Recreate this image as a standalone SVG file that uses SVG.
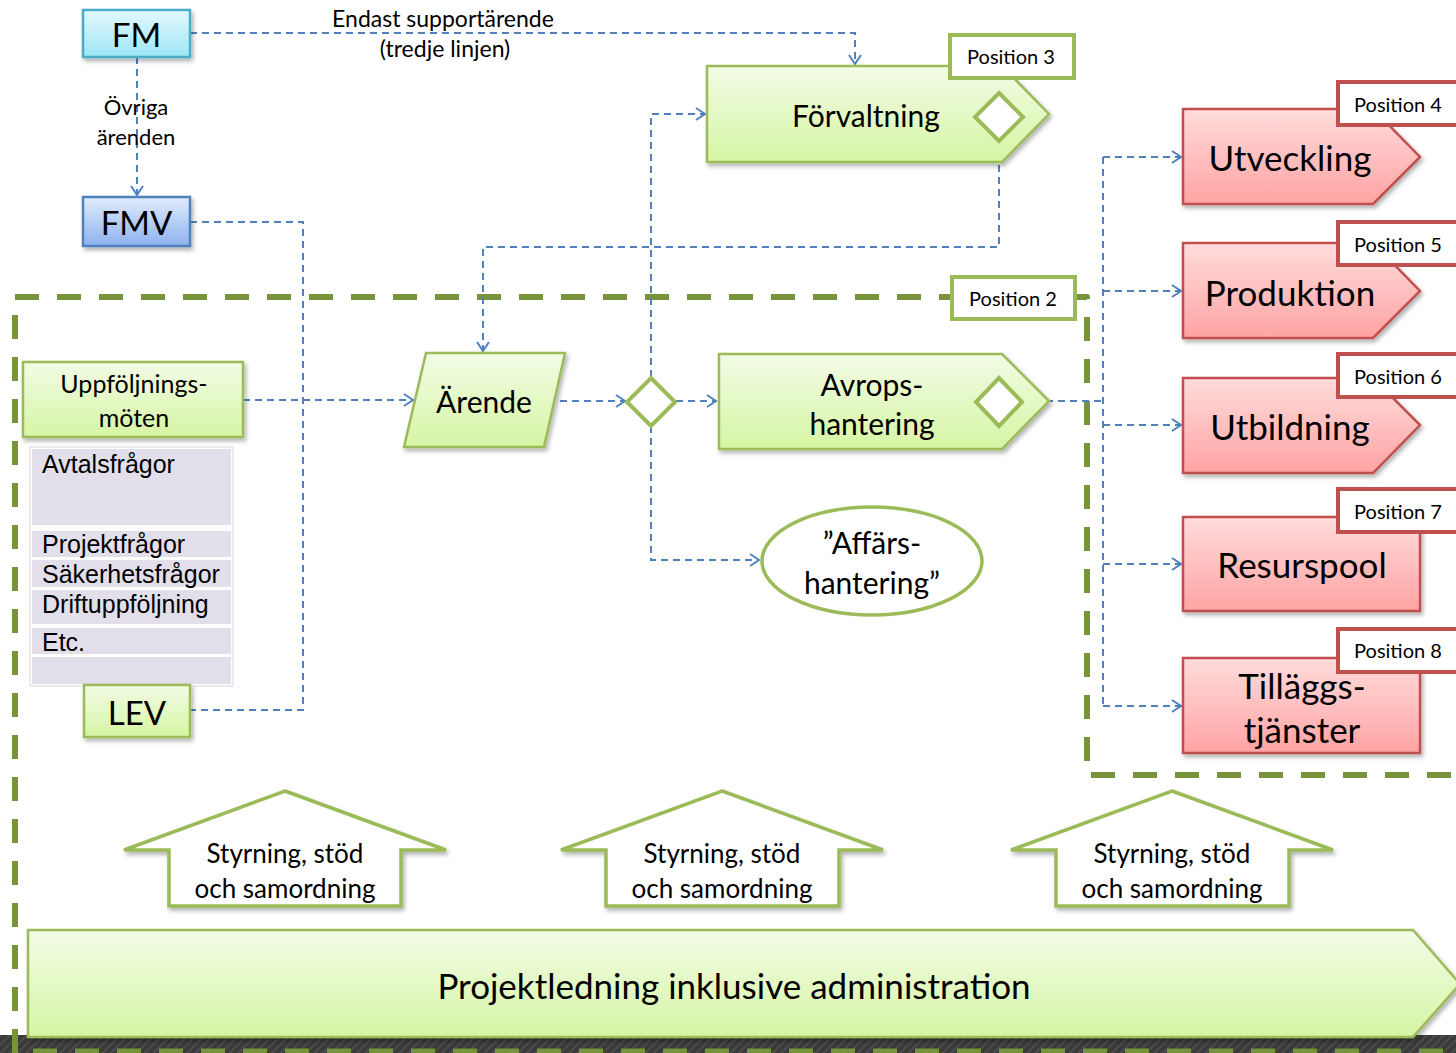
<svg xmlns="http://www.w3.org/2000/svg" width="1456" height="1053" viewBox="0 0 1456 1053">
<defs>
<linearGradient id="gGreen" x1="0" y1="0" x2="0" y2="1"><stop offset="0" stop-color="#f2fce6"/><stop offset="1" stop-color="#d6f5a3"/></linearGradient>
<linearGradient id="gRed" x1="0" y1="0" x2="0" y2="1"><stop offset="0" stop-color="#ffdcdc"/><stop offset="1" stop-color="#ffa3a3"/></linearGradient>
<linearGradient id="gCyan" x1="0" y1="0" x2="0" y2="1"><stop offset="0" stop-color="#e3f9fd"/><stop offset="1" stop-color="#9ee6f6"/></linearGradient>
<linearGradient id="gBlue" x1="0" y1="0" x2="0" y2="1"><stop offset="0" stop-color="#e1ecfd"/><stop offset="1" stop-color="#8db2ef"/></linearGradient>
<filter id="sh" x="-10%" y="-10%" width="130%" height="140%"><feDropShadow dx="2" dy="3" stdDeviation="2" flood-color="#000" flood-opacity="0.3"/></filter>
<pattern id="hatch" width="6" height="6" patternUnits="userSpaceOnUse" patternTransform="rotate(45)"><rect width="6" height="6" fill="#3a3a3a"/><rect width="2" height="6" fill="#4c4c4c"/></pattern>
<marker id="arr" markerUnits="userSpaceOnUse" markerWidth="14" markerHeight="16" refX="10" refY="7" orient="auto"><path d="M1,1 L10,7 L1,13" fill="none" stroke="#4f81bd" stroke-width="2"/></marker>
</defs>
<style>
.g{fill:url(#gGreen);stroke:#9bbb59;stroke-width:2.5;filter:url(#sh)}
.r{fill:url(#gRed);stroke:#c0504d;stroke-width:2.5;filter:url(#sh)}
.pg{fill:#fff;stroke:#9bbb59;stroke-width:4}
.pr{fill:#fff;stroke:#c0504d;stroke-width:4}
.dia{fill:#fff;stroke:#9bbb59;stroke-width:4}
.c{fill:none;stroke:#4f81bd;stroke-width:2;stroke-dasharray:7 5}
.t{font-family:Lato,"Open Sans","Liberation Sans",sans-serif;fill:#000;text-anchor:middle;dominant-baseline:central}
.a{font-family:"Liberation Sans",Arial,sans-serif;fill:#000;font-size:25px;dominant-baseline:central}
.row{fill:#e3dfea}
.house{fill:#fff;stroke:#9bbb59;stroke-width:3.5;filter:url(#sh)}
</style>
<rect width="1456" height="1053" fill="#fff"/>
<rect x="0" y="1035" width="1456" height="18" fill="url(#hatch)"/>
<line x1="33" y1="1051" x2="1456" y2="1051" stroke="#77933c" stroke-width="5" stroke-dasharray="24 18"/>

<g id="boundary">
<path d="M15,1053 V297 H1087 V775 H1460" fill="none" stroke="#77933c" stroke-width="6" stroke-dasharray="24 18" stroke-linejoin="round"/>
</g>

<g id="connectors">
<path class="c" d="M190,33 H855 V64" marker-end="url(#arr)"/>
<path class="c" d="M137,57 V195" marker-end="url(#arr)"/>
<path class="c" d="M190,222 H303 V710 H190"/>
<path class="c" d="M243,400 H413" marker-end="url(#arr)"/>
<path class="c" d="M999,141 V247 H483 V351" marker-end="url(#arr)"/>
<path class="c" d="M548,401 H625" marker-end="url(#arr)"/>
<path class="c" d="M676,401 H716" marker-end="url(#arr)"/>
<path class="c" d="M651,377 V114 H705" marker-end="url(#arr)"/>
<path class="c" d="M651,426 V560 H759" marker-end="url(#arr)"/>
<path class="c" d="M1022,401 H1103"/>
<path class="c" d="M1103,157 V706"/>
<path class="c" d="M1103,157 H1181" marker-end="url(#arr)"/>
<path class="c" d="M1103,291 H1181" marker-end="url(#arr)"/>
<path class="c" d="M1103,425 H1181" marker-end="url(#arr)"/>
<path class="c" d="M1103,564 H1181" marker-end="url(#arr)"/>
<path class="c" d="M1103,706 H1181" marker-end="url(#arr)"/>
</g>

<g id="labels">
<text class="t" x="443" y="18" font-size="23">Endast supportärende</text>
<text class="t" x="445" y="48" font-size="23">(tredje linjen)</text>
<text class="t" x="136" y="106" font-size="22">Övriga</text>
<text class="t" x="136" y="136" font-size="22">ärenden</text>
</g>

<g id="fm">
<rect x="83" y="10" width="107" height="47" fill="url(#gCyan)" stroke="#4bacc6" stroke-width="2.5" filter="url(#sh)"/>
<text class="t" x="136.5" y="34" font-size="33">FM</text>
</g>
<g id="fmv">
<rect x="83" y="197" width="107" height="49" fill="url(#gBlue)" stroke="#4f81bd" stroke-width="2.5" filter="url(#sh)"/>
<text class="t" x="136.5" y="222" font-size="33">FMV</text>
</g>

<g id="forvaltning">
<path class="g" d="M707,66 H1002 L1049,114 L1002,162 H707 Z"/>
<text class="t" x="866" y="115" font-size="30">Förvaltning</text>
<path class="dia" d="M999,93 L1023,117 L999,141 L975,117 Z"/>
</g>
<g id="pos3">
<rect class="pg" x="950" y="35" width="124" height="43"/>
<text class="t" x="1011" y="56" font-size="20">Position 3</text>
</g>

<g id="pos2">
<rect class="pg" x="952" y="277" width="123" height="42"/>
<text class="t" x="1013" y="298" font-size="20">Position 2</text>
</g>

<g id="uppfoljning">
<rect class="g" x="23" y="362" width="220" height="75"/>
<text class="t" x="134" y="383" font-size="25">Uppföljnings-</text>
<text class="t" x="134" y="417" font-size="25">möten</text>
</g>

<g id="table">
<rect x="30" y="447" width="203" height="239" fill="#fff" stroke="#d8d8d8" stroke-width="1"/>
<rect class="row" x="32" y="449" width="199" height="76"/>
<rect class="row" x="32" y="531" width="199" height="26"/>
<rect class="row" x="32" y="560" width="199" height="27"/>
<rect class="row" x="32" y="590" width="199" height="34"/>
<rect class="row" x="32" y="628" width="199" height="26"/>
<rect class="row" x="32" y="657" width="199" height="27"/>
<text class="a" x="42" y="464">Avtalsfrågor</text>
<text class="a" x="42" y="544">Projektfrågor</text>
<text class="a" x="42" y="574">Säkerhetsfrågor</text>
<text class="a" x="42" y="604">Driftuppföljning</text>
<text class="a" x="42" y="642">Etc.</text>
</g>

<g id="lev">
<rect class="g" x="84" y="685" width="106" height="52"/>
<text class="t" x="137" y="712" font-size="33">LEV</text>
</g>

<g id="arende">
<path class="g" d="M426,353 H565 L544,447 H404 Z"/>
<text class="t" x="484" y="401" font-size="30">Ärende</text>
</g>

<g id="decision">
<path class="dia" d="M651,378 L675,402 L651,426 L627,402 Z"/>
</g>

<g id="avrop">
<path class="g" d="M719,354 H1002 L1049,401 L1002,449 H719 Z"/>
<text class="t" x="872" y="384" font-size="30">Avrops-</text>
<text class="t" x="872" y="423" font-size="30">hantering</text>
<path class="dia" d="M999,378 L1022,402 L999,426 L976,402 Z"/>
</g>

<g id="affar">
<ellipse cx="872" cy="561" rx="110" ry="54" fill="#fff" stroke="#9bbb59" stroke-width="3.5"/>
<text class="t" x="872" y="542" font-size="30">”Affärs-</text>
<text class="t" x="872" y="582" font-size="30">hantering”</text>
</g>

<g id="utveckling">
<path class="r" d="M1183,109 H1373 L1420,157 L1373,204 H1183 Z"/>
<text class="t" x="1290" y="157" font-size="35">Utveckling</text>
<rect class="pr" x="1338" y="82" width="124" height="43"/>
<text class="t" x="1398" y="104" font-size="20">Position 4</text>
</g>
<g id="produktion">
<path class="r" d="M1183,243 H1373 L1420,291 L1373,338 H1183 Z"/>
<text class="t" x="1290" y="292" font-size="35">Produktion</text>
<rect class="pr" x="1338" y="222" width="124" height="43"/>
<text class="t" x="1398" y="244" font-size="20">Position 5</text>
</g>
<g id="utbildning">
<path class="r" d="M1183,378 H1373 L1420,425 L1373,473 H1183 Z"/>
<text class="t" x="1290" y="426" font-size="35">Utbildning</text>
<rect class="pr" x="1338" y="354" width="124" height="43"/>
<text class="t" x="1398" y="376" font-size="20">Position 6</text>
</g>
<g id="resurspool">
<rect class="r" x="1183" y="517" width="237" height="94"/>
<text class="t" x="1302" y="564" font-size="35">Resurspool</text>
<rect class="pr" x="1338" y="489" width="124" height="43"/>
<text class="t" x="1398" y="511" font-size="20">Position 7</text>
</g>
<g id="tillagg">
<rect class="r" x="1183" y="658" width="237" height="95"/>
<text class="t" x="1302" y="685" font-size="35">Tilläggs-</text>
<text class="t" x="1302" y="729" font-size="35">tjänster</text>
<rect class="pr" x="1338" y="629" width="124" height="43"/>
<text class="t" x="1398" y="650" font-size="20">Position 8</text>
</g>

<g id="house1">
<path class="house" d="M285,791 L446,850 H401 V906 H169 V850 H124 Z"/>
<text class="t" x="285" y="853" font-size="26">Styrning, stöd</text>
<text class="t" x="285" y="888" font-size="26">och samordning</text>
</g>
<g id="house2">
<path class="house" d="M722,791 L883,850 H839 V906 H606 V850 H561 Z"/>
<text class="t" x="722" y="853" font-size="26">Styrning, stöd</text>
<text class="t" x="722" y="888" font-size="26">och samordning</text>
</g>
<g id="house3">
<path class="house" d="M1172,791 L1333,850 H1289 V906 H1056 V850 H1011 Z"/>
<text class="t" x="1172" y="853" font-size="26">Styrning, stöd</text>
<text class="t" x="1172" y="888" font-size="26">och samordning</text>
</g>

<g id="projektledning">
<path class="g" d="M28,930 H1413 L1460,984 L1413,1037 H28 Z"/>
<text class="t" x="734" y="985" font-size="35">Projektledning inklusive administration</text>
</g>
</svg>
